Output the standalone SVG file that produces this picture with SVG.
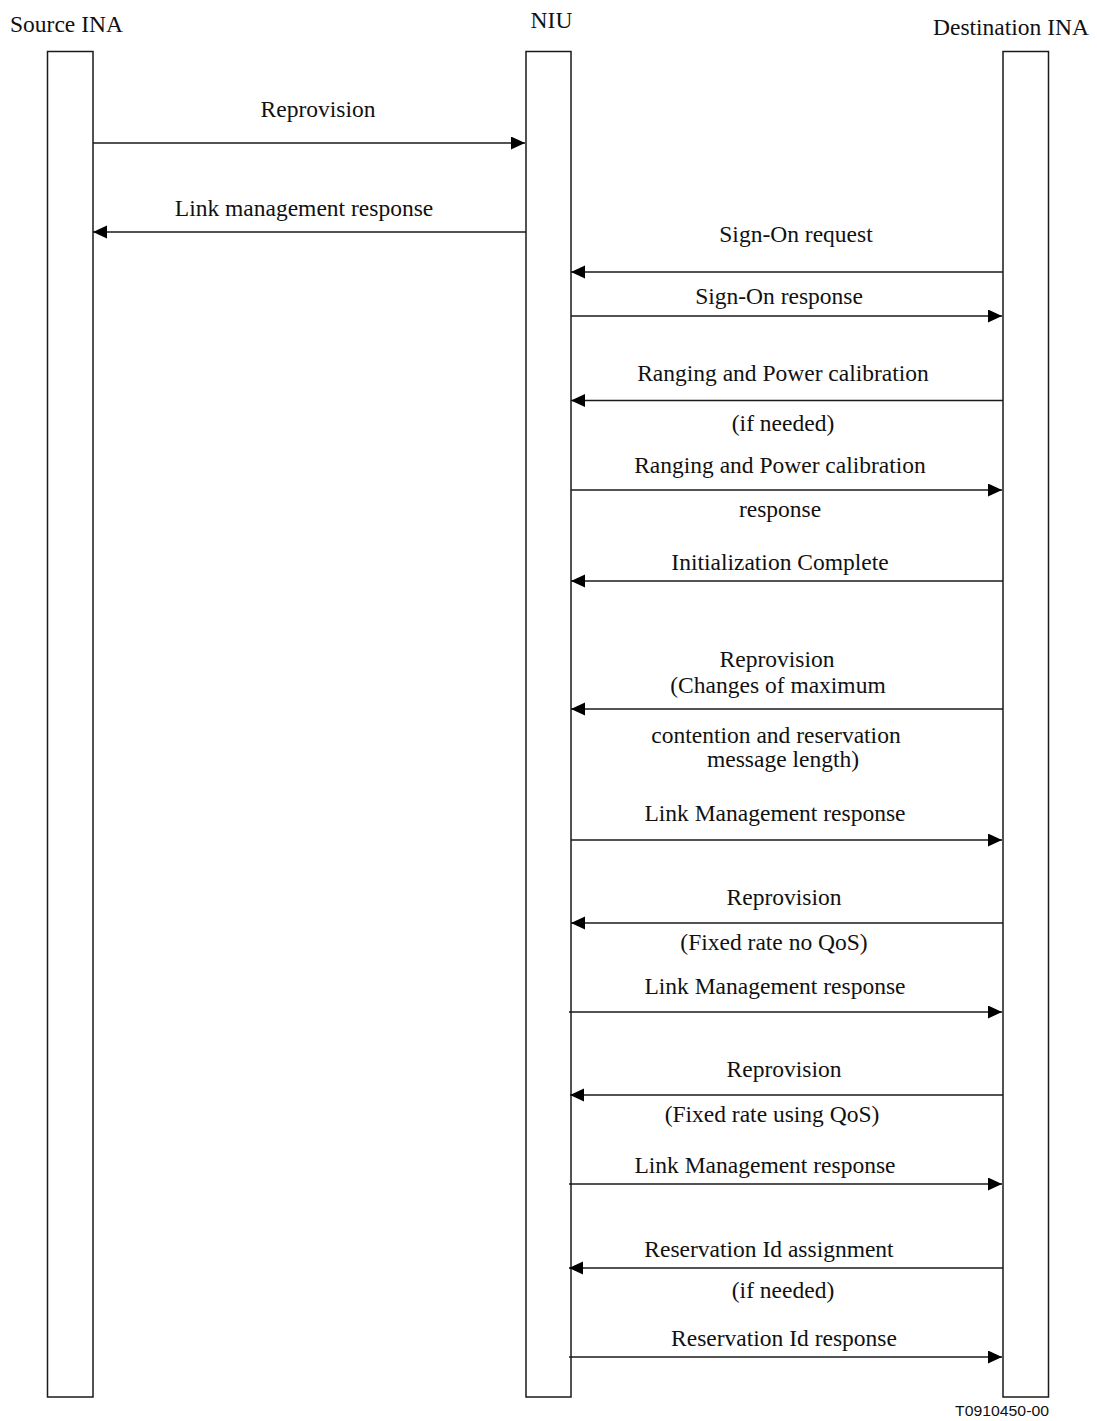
<svg xmlns="http://www.w3.org/2000/svg" width="1097" height="1421" viewBox="0 0 1097 1421">
  <style>
    .bar { fill: #ffffff; stroke: #1a1a1a; stroke-width: 1.5; }
    .head { font-family: "Liberation Serif", "Times New Roman", serif; font-size: 23.5px; fill: #111; }
    .lbl { font-family: "Liberation Serif", "Times New Roman", serif; font-size: 23.5px; fill: #111; text-anchor: middle; }
    .msg { stroke: #1a1a1a; stroke-width: 1.4; fill: none; marker-end: url(#tip); }
    .ref { font-family: "Liberation Sans", Arial, sans-serif; font-size: 14px; fill: #111; }
  </style>
  <defs>
    <marker id="tip" markerUnits="userSpaceOnUse" markerWidth="15" markerHeight="14" refX="14" refY="6.5" orient="auto">
      <path d="M0,0 L14,6.5 L0,13 Z" fill="#000"/>
    </marker>
  </defs>
  <rect width="1097" height="1421" fill="#ffffff"/>

  <!-- lifelines -->
  <g id="source-ina">
    <rect class="bar" x="47.5" y="51.5" width="45.5" height="1345.5"/>
    <text class="head" x="10" y="32">Source INA</text>
  </g>
  <g id="niu">
    <rect class="bar" x="526" y="51.5" width="45" height="1345.5"/>
    <text class="head" x="551.5" y="28" text-anchor="middle">NIU</text>
  </g>
  <g id="destination-ina">
    <rect class="bar" x="1003" y="51.5" width="45.5" height="1345.5"/>
    <text class="head" x="1011" y="35" text-anchor="middle">Destination INA</text>
  </g>

  <!-- messages -->
  <g id="connectors">
    <line class="msg" x1="93" y1="143" x2="525" y2="143"/>
    <line class="msg" x1="526" y1="232" x2="93" y2="232"/>
    <line class="msg" x1="1003" y1="272" x2="571" y2="272"/>
    <line class="msg" x1="571" y1="316" x2="1002" y2="316"/>
    <line class="msg" x1="1003" y1="400.5" x2="571" y2="400.5"/>
    <line class="msg" x1="571" y1="490" x2="1002" y2="490"/>
    <line class="msg" x1="1003" y1="581" x2="571" y2="581"/>
    <line class="msg" x1="1003" y1="709" x2="571" y2="709"/>
    <line class="msg" x1="571" y1="840" x2="1002" y2="840"/>
    <line class="msg" x1="1003" y1="923" x2="571" y2="923"/>
    <line class="msg" x1="569" y1="1012" x2="1002" y2="1012"/>
    <line class="msg" x1="1003" y1="1095" x2="570" y2="1095"/>
    <line class="msg" x1="569" y1="1184" x2="1002" y2="1184"/>
    <line class="msg" x1="1003" y1="1268" x2="569" y2="1268"/>
    <line class="msg" x1="569" y1="1357" x2="1002" y2="1357"/>
  </g>

  <!-- message labels -->
  <g id="labels">
    <text class="lbl" x="318" y="117">Reprovision</text>
    <text class="lbl" x="304" y="216">Link management response</text>
    <text class="lbl" x="796" y="242">Sign-On request</text>
    <text class="lbl" x="779" y="304">Sign-On response</text>
    <text class="lbl" x="783" y="381">Ranging and Power calibration</text>
    <text class="lbl" x="783" y="431">(if needed)</text>
    <text class="lbl" x="780" y="473">Ranging and Power calibration</text>
    <text class="lbl" x="780" y="517">response</text>
    <text class="lbl" x="780" y="570">Initialization Complete</text>
    <text class="lbl" x="777" y="667">Reprovision</text>
    <text class="lbl" x="778" y="693">(Changes of maximum</text>
    <text class="lbl" x="776" y="743">contention and reservation</text>
    <text class="lbl" x="783" y="767">message length)</text>
    <text class="lbl" x="775" y="821">Link Management response</text>
    <text class="lbl" x="784" y="905">Reprovision</text>
    <text class="lbl" x="774" y="950">(Fixed rate no QoS)</text>
    <text class="lbl" x="775" y="994">Link Management response</text>
    <text class="lbl" x="784" y="1077">Reprovision</text>
    <text class="lbl" x="772" y="1122">(Fixed rate using QoS)</text>
    <text class="lbl" x="765" y="1173">Link Management response</text>
    <text class="lbl" x="769" y="1257">Reservation Id assignment</text>
    <text class="lbl" x="783" y="1298">(if needed)</text>
    <text class="lbl" x="784" y="1346">Reservation Id response</text>
  </g>

  <text class="ref" x="955" y="1416" textLength="94" lengthAdjust="spacingAndGlyphs">T0910450-00</text>
</svg>
